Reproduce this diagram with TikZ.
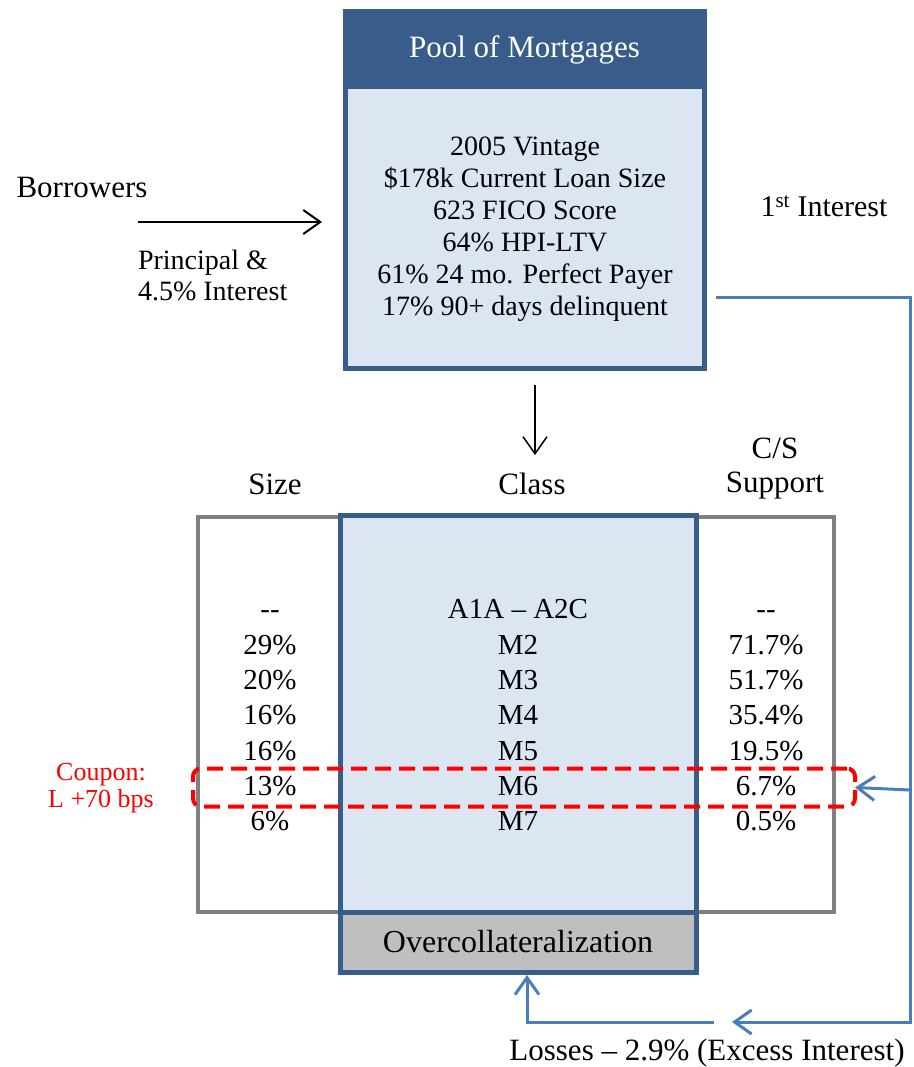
\documentclass[tikz,border=0pt]{standalone}
\usepackage{fontspec}
\setmainfont{Liberation Serif}
\usetikzlibrary{arrows.meta}
\definecolor{pooldark}{HTML}{385D8A}
\definecolor{poollight}{HTML}{DCE6F2}
\definecolor{flowblue}{HTML}{4A7EBB}
\definecolor{framegray}{HTML}{808080}
\definecolor{ocgray}{HTML}{BFBFBF}
\newcommand{\twodash}{-{}-}
\begin{document}
\begin{tikzpicture}[
  x=1pt, y=-1pt,
  boxtxt/.style={font=\fontsize{28}{32}\selectfont, align=center, inner sep=0pt},
  rowtxt/.style={font=\fontsize{29}{32}\selectfont, text height=19pt, text depth=5pt, inner sep=0pt},
  headtxt/.style={font=\fontsize{31}{34}\selectfont, align=center, inner sep=0pt},
  labeltxt/.style={font=\fontsize{31}{31}\selectfont, align=left, inner sep=0pt},
  flow/.style={line width=2pt, -{Straight Barb[length=17pt, width=24pt]}},
  blueflow/.style={flow, draw=flowblue, line width=3pt},
  outer sep=0pt
]
\useasboundingbox (0,0) rectangle (913,1067);

% Pool of mortgages
\node[draw=pooldark, fill=poollight, line width=5pt, minimum width=359pt, minimum height=356pt] (pool) at (524.5,190) {};
\node[draw=pooldark, fill=pooldark, line width=5pt, minimum width=359pt, minimum height=75pt, anchor=north,
  text=white, font=\fontsize{31}{31}\selectfont] (poolhead) at (pool.north) {Pool of Mortgages};
\node[boxtxt] (poolfacts) at (525,229) {2005 Vintage\\\$178k Current Loan Size\\623 FICO Score\\64\% HPI-LTV\\61\% 24 mo. Perfect Payer\\17\% 90+ days delinquent};

% Borrowers
\node[labeltxt] (borrowers) at (82,188) {Borrowers};
\node[labeltxt, font=\fontsize{28}{31}\selectfont, anchor=west] (payment) at (138,275) {Principal \&\\4.5\% Interest};
\coordinate (payin) at (138,222);
\coordinate (payout) at (322,222);
\draw[flow] (payin) -- (payout);

\node[labeltxt, font=\fontsize{30}{30}\selectfont] (firstint) at (824,206) {1\textsuperscript{st} Interest};

% Capital structure
\coordinate (pooldown) at (535,385);
\coordinate (classtop) at (535,455);
\draw[flow, line width=1.5pt] (pooldown) -- (classtop);

\node[headtxt] (sizehead) at (275,484) {Size};
\node[headtxt] (classhead) at (532,484) {Class};
\node[headtxt] (cshead) at (775,469) {C/S\\Support};

\node[draw=framegray, line width=4pt, minimum width=636pt, minimum height=395pt] (frame) at (516,714.5) {};
\node[draw=pooldark, fill=poollight, line width=5pt, minimum width=356pt, minimum height=397pt] (classes) at (518,713.5) {};
\node[draw=pooldark, fill=ocgray, line width=5pt, minimum width=356pt, minimum height=60pt, anchor=north,
  font=\fontsize{32}{32}\selectfont] (oc) at (classes.south) {Overcollateralization};

\foreach \sz/\cl/\cs [count=\i] in {\twodash/A1A -- A2C/\twodash, 29\%/M2/71.7\%, 20\%/M3/51.7\%,
    16\%/M4/35.4\%, 16\%/M5/19.5\%, 13\%/M6/6.7\%, 6\%/M7/0.5\%} {
  \node[rowtxt] (size\i) at (270,576.5+35.3*\i) {\sz};
  \node[rowtxt] (class\i) at (518,576.5+35.3*\i) {\cl};
  \node[rowtxt] (cs\i) at (766,576.5+35.3*\i) {\cs};
}

% M6 coupon
\node[draw=red, dash pattern=on 16pt off 8pt, line width=4pt, rounded corners=8pt,
  minimum width=662pt, minimum height=38pt] (m6band) at (524,787.5) {};
\node[labeltxt, align=center, text=red, font=\fontsize{26}{27}\selectfont] (coupon) at (101,788) {Coupon:\\L +70 bps};

% Interest waterfall
\coordinate (intout) at (716,297);
\coordinate (rail) at (910,1022);
\coordinate (railm6) at (910,790);
\coordinate (lossin) at (732,1022);
\coordinate (lossout) at (714,1022);
\coordinate (ocin) at (527,975);
\draw[blueflow] (intout) -| (rail) -- (lossin);
\draw[blueflow] (railm6) -- (m6band.east);
\draw[blueflow] (lossout) -| (ocin);
\node[labeltxt, font=\fontsize{31}{31}\selectfont] (losses) at (707,1053) {Losses -- 2.9\% (Excess Interest)};
\end{tikzpicture}
\end{document}
